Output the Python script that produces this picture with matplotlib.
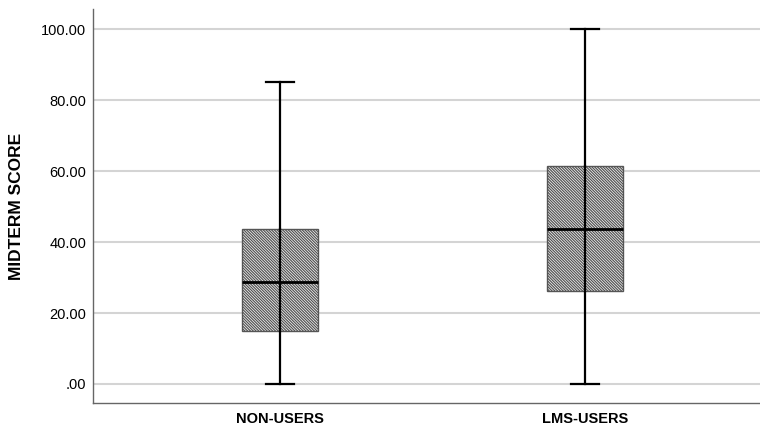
import matplotlib.pyplot as plt

plt.rcParams['font.family'] = ['Liberation Sans', 'DejaVu Sans']
plt.rcParams['hatch.linewidth'] = 0.9
plt.rcParams['hatch.color'] = '#505050'

groups = ['NON-USERS', 'LMS-USERS']
whislo = [0.0, 0.0]
q1 = [15.0, 26.3]
med = [28.8, 43.8]
q3 = [43.8, 61.5]
whishi = [85.0, 100.0]
yticks = [0, 20, 40, 60, 80, 100]
ytick_labels = ['.00', '20.00', '40.00', '60.00', '80.00', '100.00']

stats = []
for i in range(len(groups)):
    stats.append({'label': groups[i], 'whislo': whislo[i], 'q1': q1[i],
                  'med': med[i], 'q3': q3[i], 'whishi': whishi[i], 'fliers': []})

fig = plt.figure(figsize=(7.6, 4.28), dpi=100)
ax = fig.add_axes([0.1224, 0.0577, 0.8776, 0.9213])

ax.set_yticks(yticks)
ax.yaxis.grid(True, color='#d4d4d4', linewidth=1.5)
ax.set_axisbelow(True)

bp = ax.bxp(stats, positions=[1, 2], widths=0.25, patch_artist=True,
            showfliers=False,
            boxprops=dict(facecolor='white', edgecolor='#555555', linewidth=1.0, hatch='\\' * 12),
            medianprops=dict(color='black', linewidth=2.0),
            whiskerprops=dict(color='black', linewidth=1.6),
            capprops=dict(color='black', linewidth=1.6), capwidths=0.092)

# whisker runs through the box in the original
for i in range(len(groups)):
    ax.plot([i + 1, i + 1], [q1[i], q3[i]], color='black', linewidth=1.6, zorder=3)

ax.set_xlim(0.387, 2.574)
ax.set_ylim(-5.45, 105.7)
ax.set_yticklabels(ytick_labels, fontweight='medium')
ax.set_xticks([1, 2])
ax.set_xticklabels(groups, fontweight='bold')
ax.tick_params(axis='both', length=0, labelsize=10.5, colors='black')
ax.tick_params(axis='y', pad=5)
ax.tick_params(axis='x', pad=6)
ax.set_ylabel('MIDTERM SCORE', fontsize=12.5, fontweight='bold', labelpad=12)

for s in ['top', 'right']:
    ax.spines[s].set_visible(False)
for s in ['left', 'bottom']:
    ax.spines[s].set_color('#666666')
    ax.spines[s].set_linewidth(1.0)

fig.savefig('out.png', dpi=100)
